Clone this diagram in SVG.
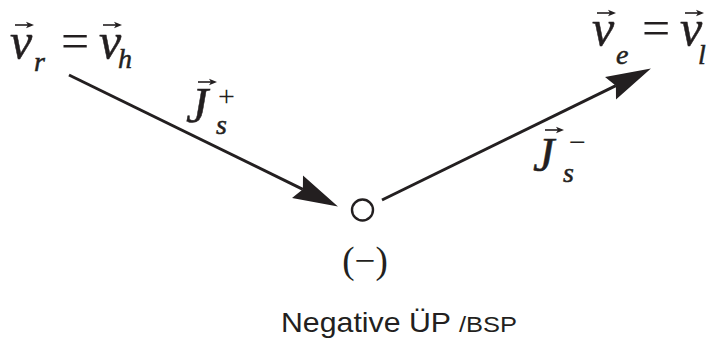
<svg xmlns="http://www.w3.org/2000/svg" width="716" height="344" viewBox="0 0 716 344">
  <style>
    .m { font-family: "Liberation Serif", "Times New Roman", serif; font-style: italic; fill: #231f20; stroke: #231f20; stroke-width: 0.5; }
    .r { font-family: "Liberation Serif", "Times New Roman", serif; fill: #231f20; }
    .s { font-family: "Liberation Sans", Arial, sans-serif; fill: #231f20; }
    .big { font-size: 50px; }
    .sub { font-size: 28px; }
    .vec { stroke: #231f20; stroke-width: 1.6; fill: none; marker-end: url(#vh); }
    .conn { stroke: #231f20; stroke-width: 3; fill: none; marker-end: url(#ah); }
  </style>
  <defs>
    <marker id="ah" markerUnits="userSpaceOnUse" viewBox="0 -14 48 28" markerWidth="48" markerHeight="28" refX="6" refY="0" orient="auto">
      <path d="M45,0 L0,-12.5 L6,0 L0,12.5 Z" fill="#231f20"/>
    </marker>
    <marker id="vh" markerUnits="userSpaceOnUse" viewBox="0 -4 9 8" markerWidth="9" markerHeight="8" refX="2" refY="0" orient="auto">
      <path d="M8,0 L0,-3.2 L2,0 L0,3.2 Z" fill="#231f20"/>
    </marker>
  </defs>

  <g id="connectors">
    <line class="conn" x1="69" y1="75" x2="302.9" y2="189.3"/>
    <line class="conn" x1="382" y1="200" x2="615.9" y2="85.7"/>
  </g>

  <g id="node-vr-vh">
    <text class="m big" x="10" y="58">v</text>
    <path class="vec" d="M15,25 L28,25"/>
    <text class="m sub" x="34" y="71">r</text>
    <text class="r big" x="61" y="58">=</text>
    <text class="m big" x="99" y="58">v</text>
    <path class="vec" d="M103,25 L116,25"/>
    <text class="m sub" x="118" y="68">h</text>
  </g>

  <g id="node-ve-vl">
    <text class="m big" x="592" y="45">v</text>
    <path class="vec" d="M597,13 L610,13"/>
    <text class="m sub" x="616" y="64">e</text>
    <text class="r big" x="642" y="45">=</text>
    <text class="m big" x="680" y="45">v</text>
    <path class="vec" d="M685,13 L698,13"/>
    <text class="m sub" x="698" y="64">l</text>
  </g>

  <g id="label-js-plus">
    <text class="m" font-size="50" x="186" y="122">J</text>
    <path class="vec" d="M198,82 L211,82"/>
    <text class="r" font-size="30" x="218" y="106">+</text>
    <text class="m" font-size="28" x="216" y="134">s</text>
  </g>

  <g id="label-js-minus">
    <text class="m" font-size="48" x="533" y="171">J</text>
    <path class="vec" d="M545,130 L558,130"/>
    <text class="r" font-size="30" x="569" y="152">−</text>
    <text class="m" font-size="28" x="563" y="182">s</text>
  </g>

  <g id="node-point">
    <circle cx="362.5" cy="210" r="10.5" fill="none" stroke="#231f20" stroke-width="2.4"/>
    <text class="r" font-size="37" x="365" y="273" text-anchor="middle">(−)</text>
  </g>

  <g id="caption">
    <text class="s" x="281" y="332"><tspan font-size="28" textLength="170" lengthAdjust="spacingAndGlyphs">Negative ÜP</tspan><tspan font-size="22" dx="8" textLength="58" lengthAdjust="spacingAndGlyphs">/BSP</tspan></text>
  </g>
</svg>
